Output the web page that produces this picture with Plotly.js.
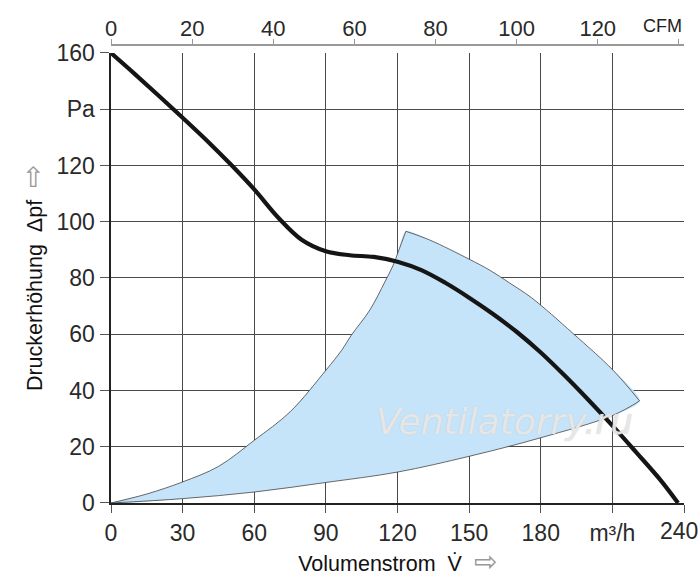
<!DOCTYPE html>
<html>
<head>
<meta charset="utf-8">
<script src="https://cdn.plot.ly/plotly-3.0.1.min.js"></script>
<style>html,body{margin:0;padding:0;background:#fff;}#chart{width:700px;height:580px;}</style>
</head>
<body>
<div id="chart"></div>
<script>
// Fan characteristic curve (m³/h vs Pa)
const curveFlow = [0, 10, 20, 30, 40, 50, 60, 70, 80, 90, 100, 110, 120, 130, 140, 150, 160, 170, 180, 190, 200, 210, 220, 230, 237.5];
const curvePressure = [160, 152.5, 144.8, 137, 129, 120.5, 111.5, 101.5, 93.5, 89.5, 88.1, 87.5, 85.8, 82.8, 78.3, 73, 67.2, 60.8, 53.5, 45.3, 36.6, 27.5, 18, 8.3, 0];

// Operating region (blue area): upper-left edge, right edge, lower edge
const upperFlow = [0, 15, 30, 45, 60, 75, 90, 96.6, 100.7, 108.4, 114.7, 118.2, 120.3, 123.5];
const upperPressure = [0, 3.2, 7.5, 13, 22.3, 32.4, 47.2, 54.3, 59.7, 68.6, 78.6, 84.6, 89.3, 96.6];
const rightFlow = [123.5, 133.5, 150, 158.6, 167, 176.1, 193.5, 210.3, 221.4];
const rightPressure = [96.6, 93.5, 86.7, 82.8, 78.2, 73, 60.3, 47.2, 36.3];
const lowerFlow = [221.4, 210.3, 180, 150, 120, 90, 60, 30, 0];
const lowerPressure = [36.3, 31.2, 23.2, 16.6, 11, 7.3, 3.9, 1.55, 0];

// Tick labels
const flowTicks = [0, 30, 60, 90, 120, 150, 180, 210, 240];
const flowTickText = ['0', '30', '60', '90', '120', '150', '180', 'm³/h', ''];
const lastFlowLabel = '240';
const pressureTicks = [0, 20, 40, 60, 80, 100, 120, 140, 160];
const pressureTickText = ['0', '20', '40', '60', '80', '100', '120', 'Pa', '160'];
const cfmTicks = [0, 20, 40, 60, 80, 100, 120, 140];
const cfmTickText = ['0', '20', '40', '60', '80', '100', '120', ''];
const M3H_PER_CFM = 1.699;

const FONT = 'Liberation Sans, Arial, sans-serif';
const edgeLine = {color: '#444', width: 0.8, shape: 'spline', smoothing: 1};
// blue area drawn as one closed path from the three edges
const areaX = upperFlow.concat(rightFlow.slice(1), lowerFlow.slice(1));
const areaY = upperPressure.concat(rightPressure.slice(1), lowerPressure.slice(1));

const traces = [
  {
    x: areaX, y: areaY, type: 'scatter', mode: 'lines', fill: 'toself',
    fillcolor: '#c6e4f9', line: {color: 'rgba(0,0,0,0)', width: 0, shape: 'spline', smoothing: 0.8},
    hoverinfo: 'skip', showlegend: false
  },
  {x: upperFlow, y: upperPressure, type: 'scatter', mode: 'lines', line: edgeLine, showlegend: false},
  {x: rightFlow, y: rightPressure, type: 'scatter', mode: 'lines', line: edgeLine, showlegend: false},
  {x: lowerFlow, y: lowerPressure, type: 'scatter', mode: 'lines', line: edgeLine, showlegend: false},
  {
    x: curveFlow, y: curvePressure, type: 'scatter', mode: 'lines',
    line: {color: '#151515', width: 4.2, shape: 'spline', smoothing: 1},
    showlegend: false
  },
  // empty trace so the CFM axis on top is drawn
  {x: [], y: [], type: 'scatter', xaxis: 'x2', yaxis: 'y', showlegend: false}
];

const layout = {
  width: 700, height: 580,
  margin: {l: 111, r: 16, t: 44, b: 77},
  paper_bgcolor: '#fff', plot_bgcolor: '#fff',
  font: {family: FONT, size: 23, color: '#222'},
  showlegend: false,
  xaxis: {
    range: [0, 240], tickvals: flowTicks, ticktext: flowTickText,
    showgrid: true, gridcolor: '#4a4a4a', gridwidth: 1, zeroline: false,
    showline: true, linecolor: '#222', linewidth: 2,
    ticks: 'outside', ticklen: 8, tickcolor: '#555', tickwidth: 1,
    tickfont: {size: 23, color: '#2a2a2a'},
    title: {text: 'Volumenstrom  V\u0307  <span style="color:#999;font-size:28px">\u21E8</span>', font: {size: 21.5, color: '#111'}, standoff: 10},
    automargin: false
  },
  xaxis2: {
    overlaying: 'x', side: 'top', anchor: 'free', position: 1,
    range: [0, 240 / M3H_PER_CFM], tickvals: cfmTicks, ticktext: cfmTickText,
    showgrid: false, zeroline: false,
    showline: true, linecolor: '#999', linewidth: 1.5,
    ticks: 'outside', ticklen: 5, tickcolor: '#999', tickwidth: 1,
    tickfont: {size: 22, color: '#2a2a2a'}, ticklabelstandoff: -6
  },
  yaxis: {
    range: [0, 160], domain: [0, 0.9804], tickvals: pressureTicks, ticktext: pressureTickText,
    showgrid: true, gridcolor: '#4a4a4a', gridwidth: 1, zeroline: false,
    showline: true, linecolor: '#222', linewidth: 2.5,
    ticks: 'outside', ticklen: 9, tickcolor: '#555', tickwidth: 1,
    tickfont: {size: 23, color: '#2a2a2a'},
    title: {text: 'Druckerhöhung  \u0394pf  <span style="color:#999;font-size:28px">\u21E8</span>', font: {size: 21.5, color: '#111'}, standoff: 8},
    automargin: false
  },
  annotations: [
    {xref: 'paper', yref: 'paper', x: 1, y: 1, xanchor: 'right', yanchor: 'bottom', yshift: 6,
     text: 'CFM', showarrow: false, font: {size: 18, color: '#222'}},
    {xref: 'paper', yref: 'paper', x: 1, y: 0, xanchor: 'right', yanchor: 'top', xshift: 16, yshift: -13,
     text: lastFlowLabel, showarrow: false, font: {size: 23, color: '#2a2a2a'}},
    {xref: 'paper', yref: 'paper', x: 0.687, y: 0.177, xanchor: 'center', yanchor: 'middle',
     text: '<i>Ventilatorry.ru</i>', showarrow: false,
     font: {family: 'DejaVu Sans, sans-serif', size: 36, color: 'rgba(238,238,238,0.85)', shadow: '0 0 1px #b8b8b8'}}
  ]
};

Plotly.newPlot('chart', traces, layout, {displayModeBar: false, staticPlot: true});
</script>
</body>
</html>
